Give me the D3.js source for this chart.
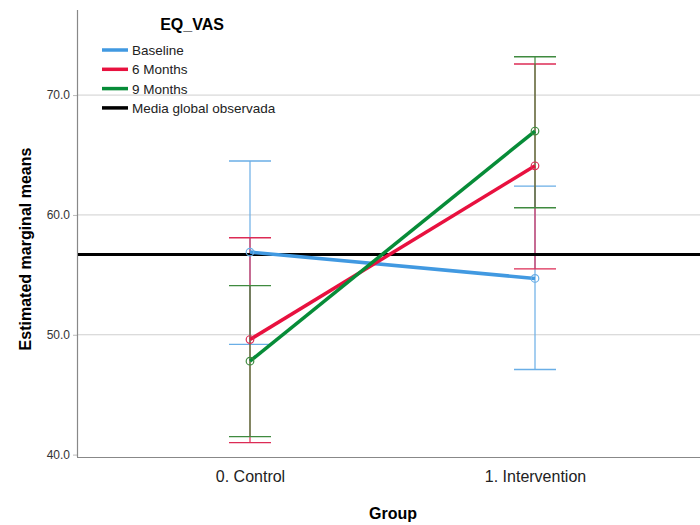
<!DOCTYPE html>
<html>
<head>
<meta charset="utf-8">
<script src="https://cdn.jsdelivr.net/npm/d3@7"></script>
<style>
  body { margin: 0; background: #fff; }
  text { font-family: Arial, "Liberation Sans", sans-serif; }
</style>
</head>
<body>
<svg id="chart" width="700" height="525"></svg>
<script>
// data
const groups = ["0. Control", "1. Intervention"];
const seriesNames = ["Baseline", "6 Months", "9 Months"];
const means = [
  [56.9, 54.7],   // Baseline
  [49.6, 64.1],   // 6 Months
  [47.8, 67.0]    // 9 Months
];
const ciLow = [
  [49.2, 47.1],
  [41.0, 55.5],
  [41.5, 60.6]
];
const ciHigh = [
  [64.5, 62.4],
  [58.1, 72.6],
  [54.1, 73.2]
];
const globalMean = 56.7;
const yTicks = [40, 50, 60, 70];

const lineColors = ["#4199e1", "#e8113f", "#078c38"];
const barColors = ["#6aaee6", "#dc2b55", "#3f8a3f"];

const svg = d3.select("#chart");
const plotLeft = 77, plotRight = 708, plotTop = 10, plotBottom = 457;

const x = d3.scalePoint().domain(groups).range([plotLeft, plotRight]).padding(0.607);
const y = d3.scaleLinear().domain([39.8, 77.1]).range([plotBottom, plotTop]);

// gridlines
svg.append("g")
  .selectAll("line")
  .data(yTicks.filter(d => d > 40))
  .enter().append("line")
  .attr("x1", plotLeft).attr("x2", 700)
  .attr("y1", d => y(d)).attr("y2", d => y(d))
  .style("stroke", "#cfcfcf").style("stroke-width", 1);

// axes
const yAxis = svg.append("g")
  .attr("transform", `translate(${plotLeft},0)`)
  .call(d3.axisLeft(y).tickValues(yTicks).tickFormat(d3.format(".1f")).tickSize(4).tickSizeOuter(0));
yAxis.select(".domain").remove();
yAxis.selectAll("line").style("stroke", "#bbb");
yAxis.selectAll("text").style("font-size", "12px").style("fill", "#333").attr("x", -7);

svg.append("line")
  .attr("x1", plotLeft + 0.5).attr("x2", plotLeft + 0.5)
  .attr("y1", plotTop).attr("y2", plotBottom)
  .style("stroke", "#888").style("stroke-width", 1.2);

const xAxis = svg.append("g")
  .attr("transform", `translate(0,${plotBottom})`)
  .call(d3.axisBottom(x).tickSize(0));
xAxis.select(".domain").remove();
xAxis.selectAll("text")
  .style("font-size", "16px").style("fill", "#222")
  .attr("y", 25).attr("dy", null);

svg.append("line")
  .attr("x1", plotLeft).attr("x2", 700)
  .attr("y1", plotBottom + 0.5).attr("y2", plotBottom + 0.5)
  .style("stroke", "#888").style("stroke-width", 1.2);

// error bars
const capW = 21;
seriesNames.forEach((name, s) => {
  const g = svg.append("g");
  groups.forEach((grp, i) => {
    const cx = x(grp);
    g.append("line")
      .attr("x1", cx).attr("x2", cx)
      .attr("y1", y(ciLow[s][i])).attr("y2", y(ciHigh[s][i]))
      .style("stroke", barColors[s]).style("stroke-width", 1.2);
    [ciLow[s][i], ciHigh[s][i]].forEach(v => {
      g.append("line")
        .attr("x1", cx - capW).attr("x2", cx + capW)
        .attr("y1", y(v)).attr("y2", y(v))
        .style("stroke", barColors[s]).style("stroke-width", 1.4);
    });
  });
});

// global mean
svg.append("line")
  .attr("x1", plotLeft + 1).attr("x2", 700)
  .attr("y1", y(globalMean)).attr("y2", y(globalMean))
  .style("stroke", "#000").style("stroke-width", 3);

// series lines + markers
const line = d3.line().x((d, i) => x(groups[i])).y(d => y(d));
seriesNames.forEach((name, s) => {
  svg.append("path")
    .datum(means[s])
    .attr("d", line)
    .style("fill", "none")
    .style("stroke", lineColors[s])
    .style("stroke-width", 3.5);
  svg.append("g").selectAll("circle")
    .data(means[s])
    .enter().append("circle")
    .attr("cx", (d, i) => x(groups[i]))
    .attr("cy", d => y(d))
    .attr("r", 3.8)
    .style("fill", "none")
    .style("stroke", barColors[s])
    .style("stroke-width", 1.2);
});

// legend
const legend = svg.append("g");
legend.append("text")
  .attr("x", 192).attr("y", 30)
  .attr("text-anchor", "middle")
  .style("font-size", "16px").style("font-weight", "bold")
  .text("EQ_VAS");
const legendItems = seriesNames.concat(["Media global observada"]);
const legendColors = lineColors.concat(["#000"]);
legendItems.forEach((name, i) => {
  const ly = 50 + i * 19.3;
  legend.append("line")
    .attr("x1", 102).attr("x2", 128)
    .attr("y1", ly).attr("y2", ly)
    .style("stroke", legendColors[i]).style("stroke-width", 3.5);
  legend.append("text")
    .attr("x", 132).attr("y", ly + 5)
    .style("font-size", "13.5px").style("fill", "#222")
    .text(name);
});

// axis titles
svg.append("text")
  .attr("transform", "translate(31,249) rotate(-90)")
  .attr("text-anchor", "middle")
  .style("font-size", "16px").style("font-weight", "bold")
  .text("Estimated marginal means");
svg.append("text")
  .attr("x", 393).attr("y", 519)
  .attr("text-anchor", "middle")
  .style("font-size", "16px").style("font-weight", "bold")
  .text("Group");
</script>
</body>
</html>
